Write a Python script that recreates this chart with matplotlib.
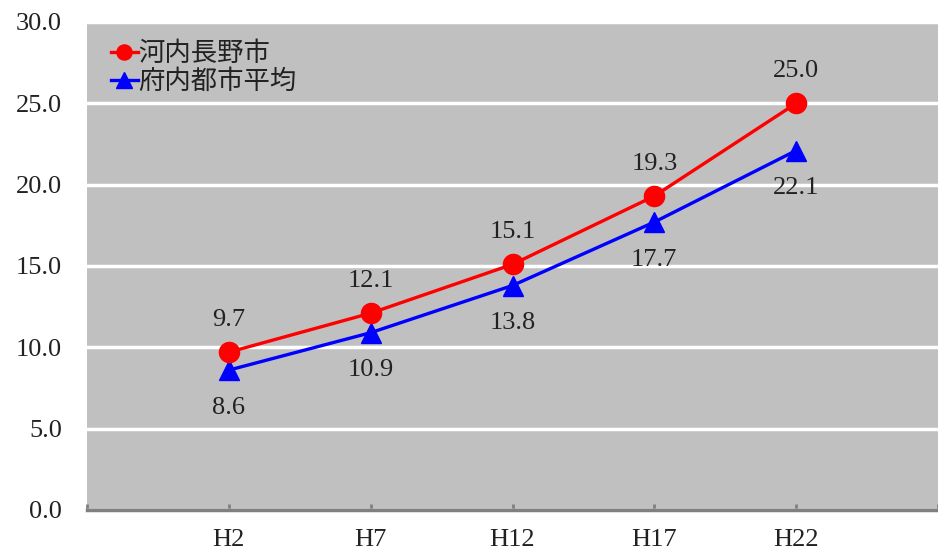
import matplotlib
matplotlib.use('Agg')
import matplotlib.pyplot as plt

# ── Data ─────────────────────────────────────────────────────────────────────
years = ['H2', 'H7', 'H12', 'H17', 'H22']
kawachinagano = [9.7, 12.1, 15.1, 19.3, 25.0]
fu_avg = [8.6, 10.9, 13.8, 17.7, 22.1]
name_a = '河内長野市'
name_b = '府内都市平均'

NUM_FONT = ['Liberation Serif', 'DejaVu Serif']
JP_FONT = ['Noto Sans CJK JP', 'DejaVu Sans']
FS = 19

fig = plt.figure(figsize=(9.38, 5.51), dpi=100)
fig.patch.set_facecolor('white')
ax = fig.add_axes([87 / 938, 41 / 551, 1 - 87 / 938, 488 / 551])
ax.set_facecolor('#c0c0c0')

x = list(range(len(years)))
ax.plot(x, kawachinagano, color='#ff0000', lw=2.4, marker='o', ms=14.5,
        zorder=4, label=name_a)
ax.plot(x, fu_avg, color='#0000ff', lw=2.4, marker='^', ms=15,
        zorder=3, label=name_b)

# value labels: red above, blue below
for xi, v in zip(x, kawachinagano):
    ax.annotate(f'{v:.1f}', (xi, v), xytext=(0, 23), textcoords='offset points',
                ha='center', va='center', fontsize=FS, family=NUM_FONT,
                color='#222222', zorder=5)
for xi, v in zip(x, fu_avg):
    ax.annotate(f'{v:.1f}', (xi, v), xytext=(0, -27), textcoords='offset points',
                ha='center', va='center', fontsize=FS, family=NUM_FONT,
                color='#222222', zorder=5)

ax.set_xlim(-1, len(years))
ax.set_ylim(0, 30)
ax.set_yticks(range(0, 31, 5))
ax.set_yticklabels([f'{t:.1f}' for t in range(0, 31, 5)], family=NUM_FONT,
                   fontsize=FS, color='#222222')
ax.set_xticks(range(-1, len(years) + 1))
ax.set_xticklabels([''] + years + [''], family=NUM_FONT, fontsize=FS,
                   color='#222222')
ax.tick_params(axis='y', length=0, pad=18)
ax.tick_params(axis='x', direction='in', length=4, width=2, color='#808080',
               pad=14)

ax.grid(axis='y', color='white', lw=2.5, zorder=1)
ax.set_axisbelow(True)
for s in ['top', 'right', 'left']:
    ax.spines[s].set_visible(False)
ax.spines['bottom'].set_color('#808080')
ax.spines['bottom'].set_linewidth(2.5)

leg = ax.legend(loc='upper left', bbox_to_anchor=(0.016, 0.985),
                frameon=False, prop={'family': JP_FONT, 'size': FS},
                handlelength=1.0, handletextpad=0.02, labelspacing=0.05,
                borderaxespad=0.0, markerscale=0.75)
for t in leg.get_texts():
    t.set_color('#222222')

fig.savefig('out.png', dpi=100, facecolor='white')
